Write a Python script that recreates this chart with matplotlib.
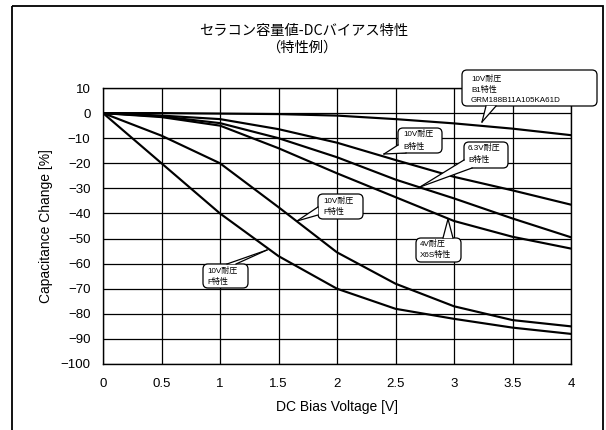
import matplotlib
matplotlib.use('Agg')
import matplotlib.pyplot as plt
from matplotlib.patches import FancyBboxPatch, Polygon, Rectangle
from matplotlib.lines import Line2D
from matplotlib.transforms import Affine2D

# ---------------- data ----------------
voltage = [0, 0.5, 1.0, 1.5, 2.0, 2.5, 3.0, 3.5, 4.0]
b1_10v_grm = [0, 0, -0.2, -0.4, -1.0, -2.4, -4.1, -6.2, -8.8]
b_10v = [0, -1.0, -2.4, -6.4, -11.8, -18.7, -25.4, -30.8, -36.5]
b_6v3 = [0, -1.3, -4.0, -10.0, -17.6, -26.5, -34.0, -42.0, -49.5]
x6s_4v = [0, -1.6, -5.0, -14.0, -24.0, -33.5, -43.0, -49.3, -54.0]
f_10v_a = [0, -9.0, -20.0, -37.5, -55.5, -68.0, -77.0, -82.5, -85.0]
f_10v_b = [0, -20.0, -40.0, -57.0, -70.0, -78.0, -82.0, -85.5, -88.0]
series = [b1_10v_grm, b_10v, b_6v3, x6s_4v, f_10v_a, f_10v_b]

x_ticks = [0, 0.5, 1, 1.5, 2, 2.5, 3, 3.5, 4]
x_ticklabels = ['0', '0.5', '1', '1.5', '2', '2.5', '3', '3.5', '4']
y_ticks = list(range(-100, 11, 10))

title1 = 'セラコン容量値-DCバイアス特性'
title2 = '（特性例）'
xlabel = 'DC Bias Voltage [V]'
ylabel = 'Capacitance Change [%]'

callout_texts = [
    ['10V耐圧', 'B1特性', 'GRM188B11A105KA61D'],
    ['10V耐圧', 'B特性'],
    ['6.3V耐圧', 'B特性'],
    ['4V耐圧', 'X6S特性'],
    ['10V耐圧', 'F特性'],
    ['10V耐圧', 'F特性'],
]

# ---------------- figure ----------------
W, H = 606, 430
LAT = ['Liberation Sans', 'Noto Sans CJK JP', 'DejaVu Sans']
CJK = ['Noto Sans CJK JP', 'DejaVu Sans']
fig = plt.figure(figsize=(W / 100, H / 100), dpi=100)
fig.patch.set_facecolor('white')
PX = Affine2D().scale(1 / W, -1 / H).translate(0, 1) + fig.transFigure

ax = fig.add_axes([103 / W, 1 - 364 / H, 468 / W, 276 / H])
for s in series:
    ax.plot(voltage, s, color='black', lw=1.55, solid_joinstyle='round', zorder=3)

ax.set_xlim(0, 4)
ax.set_ylim(-100, 10)
ax.set_xticks(x_ticks)
ax.set_xticklabels(x_ticklabels)
ax.set_yticks(y_ticks)
ax.grid(True, color='black', lw=0.9)
ax.set_axisbelow(True)
for sp in ax.spines.values():
    sp.set_color('black')
    sp.set_linewidth(1.0)
ax.tick_params(length=0, labelsize=9.5, colors='black')
ax.tick_params(axis='y', pad=9)
ax.tick_params(axis='x', pad=10)
for lab in ax.get_xticklabels() + ax.get_yticklabels():
    lab.set_family(LAT)
ax.set_xlabel(xlabel, fontsize=10, family=LAT, va='center')
ax.set_ylabel(ylabel, fontsize=10, family=LAT, va='center')
ax.xaxis.set_label_coords(0.5, -(407 - 364) / 276)
ax.yaxis.set_label_coords((46 - 103) / 468, 0.5)

# titles
fig.text(304 / W, 1 - 31 / H, title1, ha='center', va='center', fontsize=10.3, family=CJK)
fig.text(302 / W, 1 - 48 / H, title2, ha='center', va='center', fontsize=10.3, family=CJK)

# outer border
fig.add_artist(Rectangle((12, 6), 591, 430, transform=PX, fill=False, ec='black', lw=1.3))

# callouts: box (x0,y0,x1,y1) in px, text left, line ys, wedge base pts, tip
callouts = [
    ((462, 70, 597, 106), 471, [79, 90, 101], [(486, 106), (496, 106)], (482, 122)),
    ((398, 128, 442, 153), 403, [134, 147], [(398, 145), (406, 153)], (384, 154)),
    ((464, 142, 508, 168), 468, [148, 160], [(464, 160), (472, 168)], (420, 187)),
    ((416, 238, 461, 262), 420, [244, 255], [(443, 238), (453, 238)], (448, 219)),
    ((318, 194, 363, 219), 323, [201, 212], [(318, 207), (318, 215)], (297, 221)),
    ((203, 264, 248, 288), 207, [271, 282], [(227, 264), (236, 264)], (267, 250)),
]
for (box, tx, tys, base, tip), lines in zip(callouts, callout_texts):
    x0, y0, x1, y1 = box
    fig.add_artist(FancyBboxPatch((x0, y0), x1 - x0, y1 - y0,
                                  boxstyle='round,pad=0,rounding_size=5',
                                  transform=PX, fc='white', ec='black', lw=0.9, zorder=5))
    fig.add_artist(Polygon([base[0], base[1], tip], closed=True, transform=PX,
                           fc='white', ec='none', zorder=6))
    for b in base:
        fig.add_artist(Line2D([b[0], tip[0]], [b[1], tip[1]], transform=PX,
                              color='black', lw=0.9, zorder=7))
    for ty, t in zip(tys, lines):
        fig.text(tx / W, 1 - ty / H, t, ha='left', va='center', fontsize=5.8,
                 family=LAT, zorder=8)

fig.savefig('out.png', dpi=100, facecolor='white')
